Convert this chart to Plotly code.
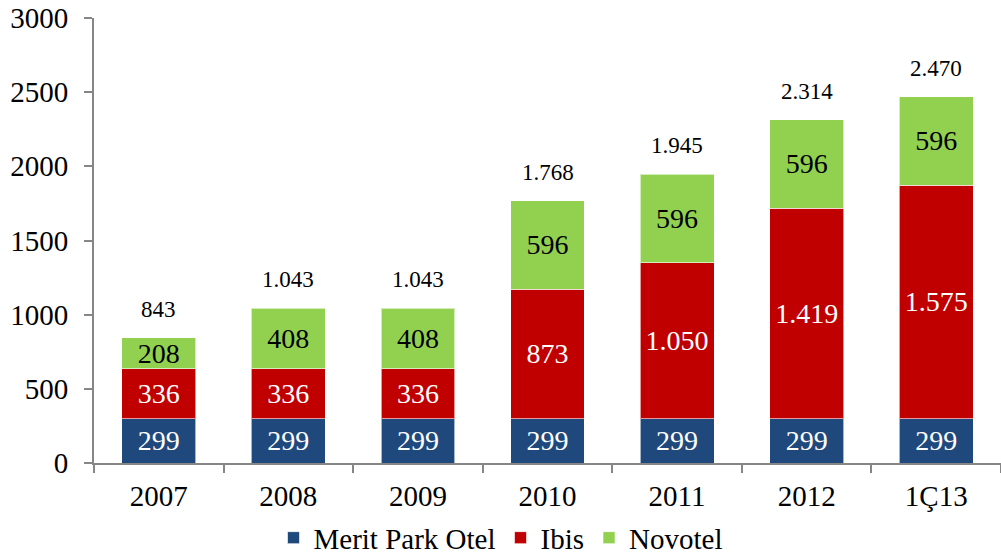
import plotly.graph_objects as go

categories = ["2007", "2008", "2009", "2010", "2011", "2012", "1Ç13"]
merit = [299, 299, 299, 299, 299, 299, 299]
ibis = [336, 336, 336, 873, 1050, 1419, 1575]
novotel = [208, 408, 408, 596, 596, 596, 596]
series_names = ["Merit Park Otel", "Ibis", "Novotel"]
colors = ["#1F497D", "#C00000", "#92D050"]
label_colors = ["white", "white", "black"]


def tr_fmt(v):
    return f"{v:,}".replace(",", ".")


FONT = "Liberation Serif"
fig = go.Figure()
for name, vals, col, lc in zip(series_names, [merit, ibis, novotel], colors, label_colors):
    fig.add_trace(go.Bar(
        x=categories, y=vals, name=name,
        marker=dict(color=col, line=dict(color="rgba(255,255,255,0.6)", width=1)),
        text=[tr_fmt(v) for v in vals], textposition="inside",
        insidetextanchor="middle", textangle=0, constraintext="none",
        textfont=dict(color=lc, size=28, family=FONT),
    ))

totals = [a + b + c for a, b, c in zip(merit, ibis, novotel)]
for i, t in enumerate(totals):
    fig.add_annotation(x=i, y=t, xref="x", yref="y", text=tr_fmt(t), showarrow=False,
                       yanchor="bottom", yshift=14,
                       font=dict(size=23, family=FONT, color="black"))

fig.update_layout(
    width=1001, height=555,
    barmode="stack", bargap=0.43,
    plot_bgcolor="white", paper_bgcolor="white",
    margin=dict(l=94, r=0, t=18, b=92),
    font=dict(family=FONT, color="black"),
    legend=dict(orientation="h", xref="container", x=0.5, xanchor="center",
                yref="container", y=0.031, yanchor="middle",
                font=dict(size=29, family=FONT), traceorder="normal"),
    xaxis=dict(type="category", showline=True, linecolor="#868686", linewidth=2,
               ticks="outside", tickson="boundaries", ticklen=8, tickcolor="#868686",
               tickwidth=2, tickfont=dict(size=29, family=FONT), range=[-0.5, 6.5],
               automargin=False, ticklabelstandoff=6),
    yaxis=dict(range=[0, 3000], dtick=500, showgrid=False, showline=True,
               linecolor="#868686", linewidth=2, ticks="outside", ticklen=8,
               tickcolor="#868686", tickwidth=2, zeroline=False, automargin=False,
               tickfont=dict(size=29, family=FONT), ticklabelstandoff=10,
               ticklabeloverflow="allow"),
)
fig.write_html("out.html", config={"displayModeBar": False},
               post_script="document.body.style.margin='0';")
